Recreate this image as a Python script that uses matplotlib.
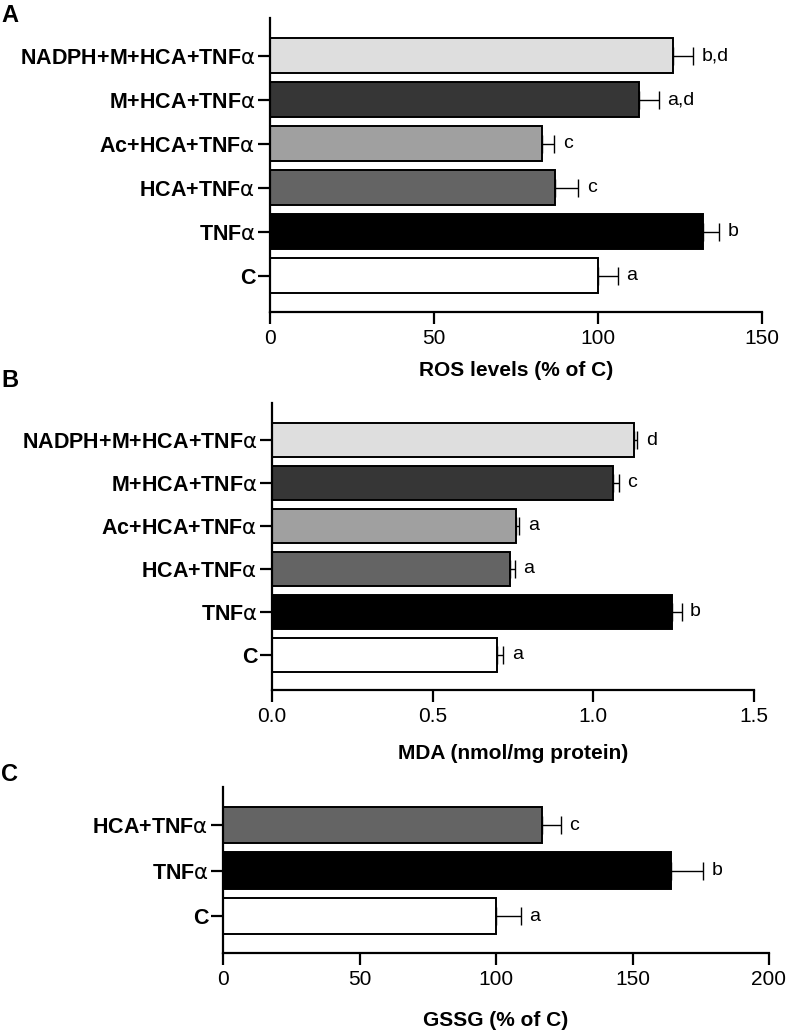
import matplotlib
matplotlib.use("Agg")
import matplotlib.pyplot as plt
import numpy as np

plt.rcParams['font.family'] = ['Liberation Sans', 'DejaVu Sans']
plt.rcParams['mathtext.fontset'] = 'custom'
plt.rcParams['mathtext.rm'] = 'DejaVu Sans'
plt.rcParams['mathtext.it'] = 'DejaVu Sans:italic'
plt.rcParams['mathtext.bf'] = 'DejaVu Sans:bold'

# ---------------- data ----------------
cats_ab = ['C', r'TNF$\mathrm{\alpha}$', r'HCA+TNF$\mathrm{\alpha}$', r'Ac+HCA+TNF$\mathrm{\alpha}$',
           r'M+HCA+TNF$\mathrm{\alpha}$', r'NADPH+M+HCA+TNF$\mathrm{\alpha}$']
colors_ab = ['#ffffff', '#000000', '#646464', '#a0a0a0', '#363636', '#dedede']

ros = [100, 132, 87, 83, 112.5, 123]
ros_err = [6, 5, 7, 3.7, 6, 6]
ros_sig = ['a', 'b', 'c', 'c', 'a,d', 'b,d']

mda = [0.70, 1.245, 0.74, 0.76, 1.06, 1.125]
mda_err = [0.02, 0.03, 0.016, 0.01, 0.02, 0.012]
mda_sig = ['a', 'b', 'a', 'a', 'c', 'd']

cats_c = ['C', r'TNF$\mathrm{\alpha}$', r'HCA+TNF$\mathrm{\alpha}$']
colors_c = ['#ffffff', '#000000', '#646464']
gssg = [100, 164, 117]
gssg_err = [9, 12, 6.7]
gssg_sig = ['a', 'b', 'c']

ros_ticks = [0, 50, 100, 150]
mda_ticks = [0.0, 0.5, 1.0, 1.5]
gssg_ticks = [0, 50, 100, 150, 200]

W, H = 786, 1034
fig = plt.figure(figsize=(W / 100, H / 100), dpi=100)


def px_axes(x0, x1, ytop, ybot):
    return fig.add_axes([x0 / W, 1 - ybot / H, (x1 - x0) / W, (ybot - ytop) / H])


def panel(ax, cats, vals, errs, sigs, cols, xlim, ticks, ticklabels, ylim, xlabel, labelpad):
    y = np.arange(len(cats))
    ax.barh(y, vals, height=0.8, color=cols, edgecolor='black', linewidth=1.4, zorder=2)
    ax.errorbar(vals, y, xerr=[np.zeros(len(vals)), errs], fmt='none', ecolor='black',
                elinewidth=1.0, capsize=6.5, capthick=1.0, zorder=3)
    for yi, v, e, s in zip(y, vals, errs, sigs):
        ax.annotate(s, xy=(v + e, yi), xytext=(6, 0), textcoords='offset points',
                    va='center', ha='left', fontsize=14)
    ax.set_xlim(*xlim)
    ax.set_ylim(*ylim)
    ax.set_yticks(y)
    ax.set_yticklabels(cats, fontsize=15.5, fontweight='bold')
    ax.set_xticks(ticks)
    ax.set_xticklabels(ticklabels, fontsize=15)
    for s in ['top', 'right']:
        ax.spines[s].set_visible(False)
    for s in ['left', 'bottom']:
        ax.spines[s].set_linewidth(1.6)
    ax.tick_params(axis='both', width=1.6, length=8.5)
    ax.tick_params(axis='y', pad=2)
    ax.tick_params(axis='x', pad=3.5)
    ax.set_xlabel(xlabel, fontsize=15, fontweight='bold', labelpad=labelpad)


axA = px_axes(270, 762, 18, 312)
panel(axA, cats_ab, ros, ros_err, ros_sig, colors_ab, (0, 150), ros_ticks,
      [str(t) for t in ros_ticks], (-0.823, 5.86), 'ROS levels (% of C)', 9.5)

axB = px_axes(272, 754, 403, 690)
panel(axB, cats_ab, mda, mda_err, mda_sig, colors_ab, (0, 1.5), mda_ticks,
      [f'{t:.1f}' for t in mda_ticks], (-0.823, 5.863), 'MDA (nmol/mg protein)', 13)

axC = px_axes(223, 769, 787, 953)
panel(axC, cats_c, gssg, gssg_err, gssg_sig, colors_c, (0, 200), gssg_ticks,
      [str(t) for t in gssg_ticks], (-0.81, 2.836), 'GSSG (% of C)', 16)

for letter, ypx in [('A', 4), ('B', 369), ('C', 763)]:
    fig.text(1 / W, 1 - ypx / H, letter, fontsize=17, fontweight='bold', va='top', ha='left')

fig.savefig('out.png', dpi=100)
